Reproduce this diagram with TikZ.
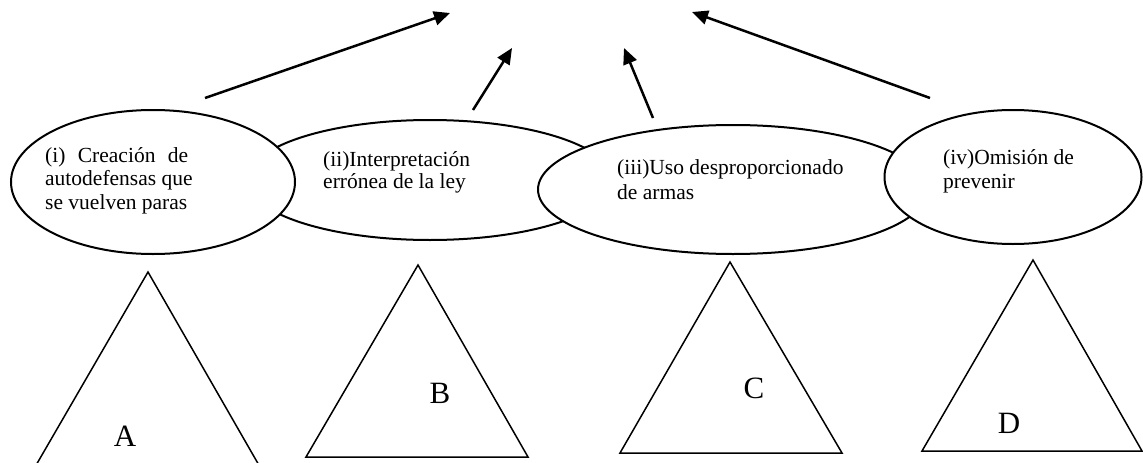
\documentclass[tikz,border=0pt]{standalone}
\usepackage{fontspec}
\setmainfont{Liberation Serif}
\usetikzlibrary{shapes.geometric,arrows.meta}
\begin{document}
\begin{tikzpicture}[x=1pt,y=-1pt,
  oval/.style={ellipse,draw=black,fill=white,line width=2pt,inner sep=0pt},
  txt/.style={anchor=base west,inner sep=0pt,font=\fontsize{21.5}{21}\selectfont},
  arr/.style={line width=2.5pt,-{Triangle[length=16pt,width=14pt]}},
  tri/.style={draw=black,line width=1.5pt,line join=miter},
  lab/.style={inner sep=0pt,font=\fontsize{31}{31}\selectfont}]
\useasboundingbox (0,0) rectangle (1143,463);
\clip (0,0) rectangle (1143,463);
% ellipses (drawing order gives the overlaps)
\node[oval,minimum width=366pt,minimum height=120pt] (e2) at (430,180) {};
\node[oval,minimum width=284pt,minimum height=144pt] (e1) at (153,182) {};
\node[oval,minimum width=390pt,minimum height=129pt] (e3) at (733,189.5) {};
\node[oval,minimum width=257pt,minimum height=134pt] (e4) at (1013,177) {};
% texts
\node[txt] (t1) at (45,162) {\vtop{\baselineskip=23.5pt\hbox to 143pt{(i)\hskip 5pt plus 1fil Creación\hskip 5pt plus 1fil de}\hbox{autodefensas que}\hbox{se vuelven paras}}};
\node[txt] (t2) at (323,166) {\vtop{\baselineskip=22pt\hbox{(ii)Interpretación}\hbox{errónea de la ley}}};
\node[txt] (t3) at (617,174) {\vtop{\baselineskip=25pt\hbox{(iii)Uso desproporcionado}\hbox{de armas}}};
\node[txt] (t4) at (943,164) {\vtop{\baselineskip=24pt\hbox{(iv)Omisión de}\hbox{prevenir}}};
% arrows
\coordinate (s1) at (205,98);  \coordinate (h1) at (450,13);
\coordinate (s2) at (473,110); \coordinate (h2) at (512,48);
\coordinate (s3) at (653,118); \coordinate (h3) at (624,48);
\coordinate (s4) at (930,98);  \coordinate (h4) at (692,12);
\draw[arr] (s1) -- (h1);
\draw[arr] (s2) -- (h2);
\draw[arr] (s3) -- (h3);
\draw[arr] (s4) -- (h4);
% triangles
\draw[tri] (148,272) -- (35,467) -- (260,467) -- cycle;
\draw[tri] (418,265) -- (306,457) -- (528,457) -- cycle;
\draw[tri] (730,262) -- (620,453) -- (842,453) -- cycle;
\draw[tri] (1033,260) -- (922,451) -- (1142,451) -- cycle;
% labels
\node[lab] (la) at (125,436) {A};
\node[lab] (lb) at (440,393) {B};
\node[lab] (lc) at (754,388) {C};
\node[lab] (ld) at (1009,423) {D};
\end{tikzpicture}
\end{document}
